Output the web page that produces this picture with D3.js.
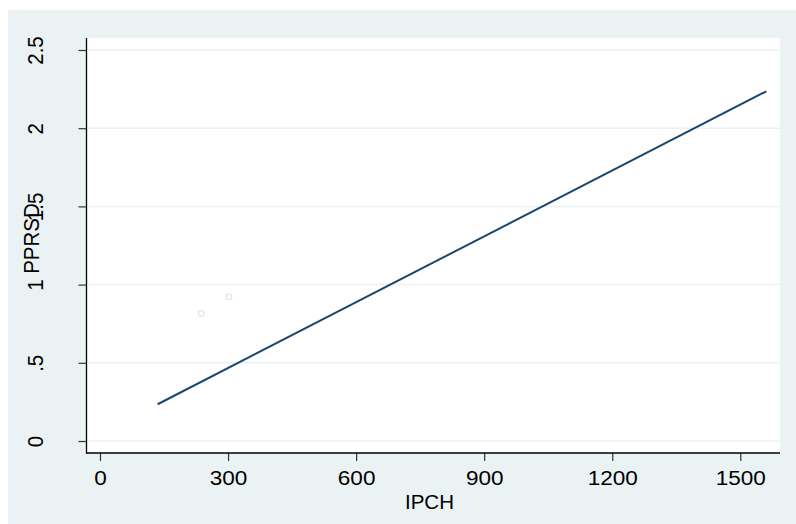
<!DOCTYPE html>
<html>
<head>
<meta charset="utf-8">
<script src="https://cdn.jsdelivr.net/npm/d3@7"></script>
<style>
  html, body { margin: 0; padding: 0; background: #fff; }
  text { font-family: "Liberation Sans", Arial, sans-serif; }
</style>
</head>
<body>
<svg id="chart" width="796" height="524"></svg>
<script>
// scatter points (IPCH, PPRSD)
const pointsX = [237, 302];
const pointsY = [0.816, 0.921];
// fitted line endpoints
const fitX = [135, 1561];
const fitY = [0.235, 2.236];

const xTicks = [0, 300, 600, 900, 1200, 1500];
const yTicks = [0, 0.5, 1, 1.5, 2, 2.5];
const yTickLabels = ['0', '.5', '1', '1.5', '2', '2.5'];

const svg = d3.select('#chart');
const bg = '#eaf2f3';
const fontSize = 20.5;

// outer background and plot region
svg.append('rect').attr('x', 8).attr('y', 10).attr('width', 788).attr('height', 514).attr('fill', bg);
const plot = { left: 87, top: 38, right: 780, bottom: 453 };
svg.append('rect')
  .attr('x', plot.left).attr('y', plot.top)
  .attr('width', plot.right - plot.left).attr('height', plot.bottom - plot.top)
  .attr('fill', '#fff');

const x = d3.scaleLinear().domain([0, 1500]).range([100, 740.3]);
const y = d3.scaleLinear().domain([0, 2.5]).range([441, 50]);

// gridlines
svg.append('g').selectAll('line').data(yTicks).join('line')
  .attr('x1', plot.left).attr('x2', plot.right)
  .attr('y1', d => y(d)).attr('y2', d => y(d))
  .attr('stroke', bg).attr('stroke-width', 1.5);

// y axis
const yAxis = svg.append('g')
  .attr('transform', `translate(${plot.left - 0.5},0)`)
  .call(d3.axisLeft(y).tickValues(yTicks).tickSize(8).tickFormat((d, i) => yTickLabels[i]));
yAxis.select('.domain').remove();
yAxis.selectAll('.tick line').attr('stroke', '#333').attr('stroke-width', 1.2);
yAxis.selectAll('.tick text')
  .attr('x', null).attr('dy', null)
  .attr('text-anchor', 'middle')
  .attr('font-size', fontSize).attr('fill', '#000')
  .attr('transform', 'translate(-43.5,0) scale(1.1,1) rotate(-90)');

// x axis
const xAxis = svg.append('g')
  .attr('transform', `translate(0,${plot.bottom})`)
  .call(d3.axisBottom(x).tickValues(xTicks).tickSize(8).tickFormat(d3.format('d')));
xAxis.select('.domain').remove();
xAxis.selectAll('.tick line').attr('stroke', '#333').attr('stroke-width', 1.2);
xAxis.selectAll('.tick text')
  .attr('y', null).attr('dy', null)
  .attr('text-anchor', 'middle')
  .attr('font-size', fontSize).attr('fill', '#000')
  .attr('transform', 'translate(0,32.3) scale(1.1,1)');

// axis lines
svg.append('line').attr('x1', plot.left - 0.5).attr('x2', plot.left - 0.5)
  .attr('y1', plot.top).attr('y2', plot.bottom + 0.5)
  .attr('stroke', '#000').attr('stroke-width', 1.3);
svg.append('line').attr('x1', plot.left - 1).attr('x2', plot.right)
  .attr('y1', plot.bottom).attr('y2', plot.bottom)
  .attr('stroke', '#000').attr('stroke-width', 1.3);

// scatter points
svg.append('g').selectAll('circle').data(pointsX).join('circle')
  .attr('cx', d => x(d)).attr('cy', (d, i) => y(pointsY[i]))
  .attr('r', 2.8).attr('fill', 'none').attr('stroke', '#dfe5ee').attr('stroke-width', 1.2);

// fitted line
const fitData = fitX.map((d, i) => [d, fitY[i]]);
svg.append('path').datum(fitData)
  .attr('d', d3.line().x(d => x(d[0])).y(d => y(d[1])))
  .attr('fill', 'none').attr('stroke', '#1a476f').attr('stroke-width', 2);

// axis titles
svg.append('text').attr('x', 429.5).attr('y', 509)
  .attr('text-anchor', 'middle').attr('font-size', fontSize).attr('fill', '#000')
  .text('IPCH');
svg.append('text')
  .attr('transform', 'translate(39,238.5) scale(1.1,1) rotate(-90)')
  .attr('text-anchor', 'middle').attr('font-size', fontSize).attr('fill', '#000')
  .text('PPRSD');
</script>
</body>
</html>
